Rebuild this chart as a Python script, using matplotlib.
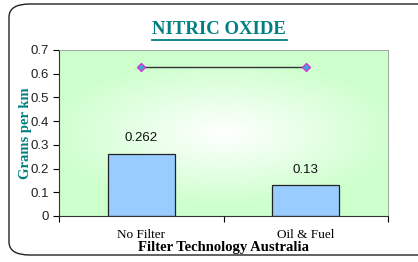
import numpy as np
import matplotlib.pyplot as plt
from matplotlib.patches import FancyBboxPatch

categories = ['No Filter', 'Oil & Fuel']
values = [0.262, 0.13]
value_labels = ['0.262', '0.13']
line_values = [0.63, 0.63]
yticks = [0, 0.1, 0.2, 0.3, 0.4, 0.5, 0.6, 0.7]

fig = plt.figure(figsize=(4.18, 2.62), dpi=100)
W, H = 418, 262

# rounded outer frame
frame = FancyBboxPatch((9 / W, 7 / H), 430 / W, 251 / H,
                       boxstyle='round,pad=0,rounding_size=0.05',
                       transform=fig.transFigure, fill=False,
                       edgecolor='#222222', linewidth=1.0)
fig.patches.append(frame)

ax = fig.add_axes([59 / W, 1 - 216 / H, 329 / W, 166 / H])
x = np.arange(len(categories))

# radial gradient background
gx, gy = np.meshgrid(np.linspace(-1, 1, 200), np.linspace(-1, 1, 120))
r = np.clip(np.sqrt((gx * 0.9) ** 2 + (gy * 1.1) ** 2), 0, 1)
white = np.array([1.0, 1.0, 1.0])
green = np.array([0.80, 1.0, 0.80])
img = white[None, None, :] * (1 - r[..., None]) + green[None, None, :] * r[..., None]
ax.imshow(img, extent=[-0.5, 1.5, 0, 0.7], aspect='auto', zorder=0)

ax.bar(x, values, width=0.41, color='#99ccff', edgecolor='#222222', linewidth=0.9, zorder=2)
for xi, v, lab in zip(x, values, value_labels):
    ax.text(xi, v + 0.065, lab, ha='center', va='center', fontsize=9.5,
            family='Liberation Sans', color='#111111')

ax.plot(x, line_values, color='#333333', linewidth=1.0, zorder=3,
        marker='D', markersize=4, markerfacecolor='#33aacc',
        markeredgecolor='#dd33dd', markeredgewidth=1.0)

ax.set_xlim(-0.5, 1.5)
ax.set_ylim(0, 0.7)
ax.set_yticks(yticks)
ax.set_yticklabels(['0', '0.1', '0.2', '0.3', '0.4', '0.5', '0.6', '0.7'],
                   family='Liberation Sans', fontsize=9.5, color='#222222')
ax.set_xticks([-0.5, 0.5, 1.5])
ax.set_xticklabels([])
ax.set_xticks(x, minor=True)
ax.set_xticklabels(categories, minor=True, family='Liberation Serif', fontsize=9.5)
ax.tick_params(axis='x', which='minor', length=0, pad=9)
ax.tick_params(axis='x', which='major', length=4, direction='out')
ax.tick_params(axis='y', length=4, direction='out', pad=3)

for side in ['top', 'right']:
    ax.spines[side].set_color('#999999')
    ax.spines[side].set_linewidth(0.6)
ax.spines['left'].set_color('#333333')
ax.spines['bottom'].set_color('#333333')

ax.set_xlabel('Filter Technology Australia', family='Liberation Serif',
              fontweight='bold', fontsize=10.5, labelpad=0)
ax.set_ylabel('Grams per km', family='Liberation Serif', fontweight='bold',
              fontsize=10.5, color='#008080', labelpad=-1)

fig.text(219 / W, 1 - 29 / H, 'NITRIC OXIDE', ha='center', va='center',
         family='Liberation Serif', fontweight='bold', fontsize=13.5, color='#008080')
fig.add_artist(plt.Line2D([152 / W, 287 / W], [1 - 40 / H, 1 - 40 / H],
                          color='#008080', linewidth=1.3, transform=fig.transFigure))

fig.savefig('out.png', dpi=100)
